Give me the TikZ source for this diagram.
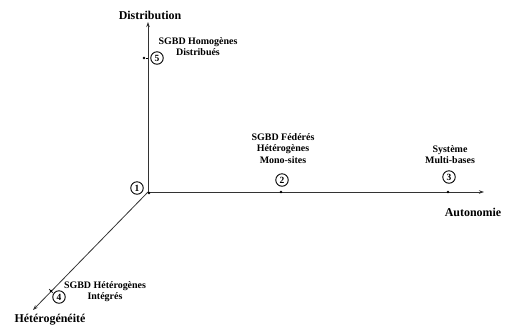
\documentclass[tikz,border=0pt]{standalone}
\usepackage{fontspec}
\setmainfont{Liberation Serif}
\usetikzlibrary{arrows.meta}
\begin{document}
\begin{tikzpicture}[x=1bp,y=-1bp,
  axis/.style={line width=0.8pt,draw=black!80,-{Stealth[length=5pt,width=3.5pt]}},
  axtitle/.style={font=\fontsize{12}{14}\selectfont\bfseries,inner sep=0pt},
  lbl/.style={font=\fontsize{10}{11.6}\selectfont\bfseries,align=center,inner sep=0pt},
  num/.style={circle,draw,line width=0.9pt,inner sep=0pt,minimum size=12.5bp,font=\fontsize{9.5}{10}\selectfont\bfseries},
  dot/.style={circle,fill,inner sep=0pt,minimum size=2.6bp}]
\useasboundingbox (0,0) rectangle (515,327);
% origin and axis ends
\coordinate (o) at (148,192);
\coordinate (ytop) at (148,22);
\coordinate (xend) at (484,192);
\coordinate (zend) at (33,310);
\draw[axis] (o) -- (ytop);
\draw[axis] (o) -- (xend);
\draw[axis] (o) -- (zend);
% axis titles
\node[axtitle] (tdist) at (150,15) {Distribution};
\node[axtitle] (taut) at (473,212) {Autonomie};
\node[axtitle] (thet) at (50,320) {Hétérogénéité};
% marks on the axes
\node[dot] (p1) at (149,193) {};
\node[dot] (p2) at (281,192) {};
\node[dot] (p3) at (448,192) {};
\node[dot] (p5) at (144,58) {};
\node[dot] (p4) at (51,291) {};
\draw[line width=0.6pt] (p5) -- (148,58);
\draw[line width=0.6pt] (49,289) -- (53,293);
% numbered points
\node[num] (n1) at (137,188) {1};
\node[num] (n2) at (282,180) {2};
\node[num] (n3) at (449,177) {3};
\node[num] (n4) at (59,297) {4};
\node[num] (n5) at (157,58) {5};
% descriptions
\node[lbl,anchor=north] (l2) at (283,133) {SGBD Fédérés\\Hétérogènes\\Mono-sites};
\node[lbl,anchor=north] (l3) at (450,145) {Système\\Multi-bases};
\node[lbl,anchor=north] (l5) at (198,37) {SGBD Homogènes\\Distribués};
\node[lbl,anchor=north] (l4) at (105,281) {SGBD Hétérogènes\\Intégrés};
\end{tikzpicture}
\end{document}
